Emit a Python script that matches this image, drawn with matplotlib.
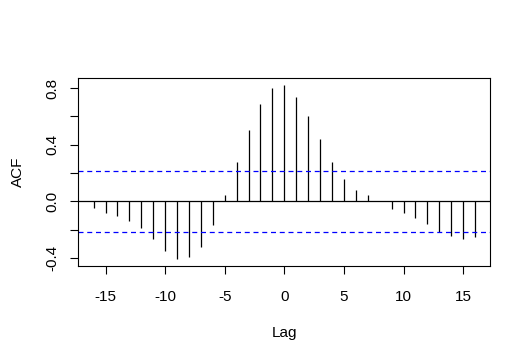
import numpy as np
import matplotlib.pyplot as plt

# cross-correlation values
lags = np.arange(-16, 17)
acf = [-0.047, -0.084, -0.103, -0.140, -0.189, -0.266, -0.350, -0.406,
       -0.392, -0.322, -0.168, 0.049, 0.280, 0.504, 0.686, 0.798,
       0.819, 0.735, 0.602, 0.441, 0.280, 0.161, 0.084, 0.042,
       0.003, -0.054, -0.084, -0.119, -0.161, -0.212, -0.243, -0.266,
       -0.252]
clim = 0.214

xticks = [-15, -10, -5, 0, 5, 10, 15]
yticks = [-0.4, -0.2, 0.0, 0.2, 0.4, 0.6, 0.8]
ylabels = ["-0.4", "", "0.0", "", "0.4", "", "0.8"]

plt.rcParams['font.family'] = ['Liberation Sans', 'DejaVu Sans']
plt.rcParams['axes.unicode_minus'] = False

fig = plt.figure(figsize=(5.31, 3.64), dpi=100)
ax = fig.add_axes([0.1475, 0.2692, 0.7759, 0.5157])

ax.vlines(lags, 0, acf, color='black', linewidth=0.9)
ax.axhline(0, color='black', linewidth=0.9)
ax.axhline(clim, color='blue', linestyle=(0, (4, 3)), linewidth=0.9)
ax.axhline(-clim, color='blue', linestyle=(0, (4, 3)), linewidth=0.9)

ax.set_xlim(-17.28, 17.28)
ax.set_ylim(-0.455, 0.868)
ax.set_xticks(xticks)
ax.set_yticks(yticks)
ax.set_yticklabels(ylabels, rotation=90, va='center')

ax.tick_params(length=6, width=0.8, labelsize=11)
ax.tick_params(axis='x', pad=11)
ax.tick_params(axis='y', pad=8)
for s in ax.spines.values():
    s.set_linewidth(0.8)

ax.set_xlabel("Lag", fontsize=11, labelpad=16)
ax.set_ylabel("ACF", fontsize=11, labelpad=14)

fig.savefig("out.png", dpi=100)
